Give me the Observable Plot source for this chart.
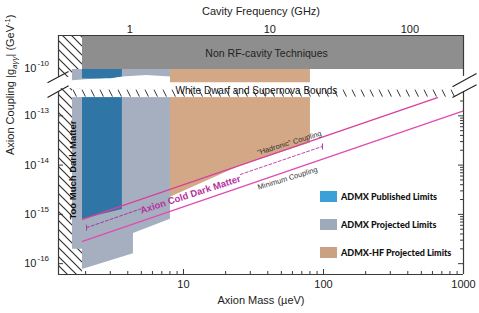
<!DOCTYPE html>
<html><head><meta charset="utf-8">
<script src="https://cdn.jsdelivr.net/npm/d3@7"></script>
<script src="https://cdn.jsdelivr.net/npm/@observablehq/plot@0.6"></script>
<style>
html,body{margin:0;padding:0;background:#fff;}
#wrap{position:relative;width:479px;height:313px;font-family:"Liberation Sans",Arial,sans-serif;}
#legend{position:absolute;left:320px;top:191px;font-family:Lato,"Liberation Sans",sans-serif;font-weight:900;font-size:9px;color:#111;}
#legend .row{position:absolute;left:0;white-space:nowrap;height:11px;}
#legend .sw{position:absolute;left:0;top:0;width:17px;height:11px;}
#legend .lb{position:absolute;left:21px;top:0;line-height:11px;}
</style></head><body>
<div id="wrap"><div id="legend"></div></div>
<script>
// ---------- data ----------
const GHZ_PER_UEV = 0.2418;
const massTicks = [10, 100, 1000];
const massMinor = [2,3,4,5,6,7,8,9,20,30,40,50,60,70,80,90,200,300,400,500,600,700,800,900];
const freqTicks = [1, 10, 100];
const couplingTicks = [1e-10, 1e-13, 1e-14, 1e-15, 1e-16];
const couplingMinor = [2e-16,3e-16,4e-16,5e-16,6e-16,7e-16,8e-16,9e-16,2e-15,3e-15,4e-15,5e-15,6e-15,7e-15,8e-15,9e-15,2e-14,3e-14,4e-14,5e-14,6e-14,7e-14,8e-14,9e-14,2e-13];
const massDomain = [1.28, 1000];
const couplingDomain = [10**-16.22, 10**-9.33];
const BREAK_SHIFT = 2.04; // decades hidden by the axis break

// excluded / projected regions (m in µeV, coupling in GeV^-1)
const tooMuchDM = [{m1: 1.28, m2: 1.90}];
const nonRF = [{m1: 1.90, m2: 1000, g1: 10**-10.02, g2: 10**-9.33}];
const upperTop = 10**-10.02;
const projUpper = [{m:1.61,g:10**-10.25},{m:3.66,g:10**-10.17},{m:5.5,g:10**-10.14},{m:8.07,g:10**-10.17}];
const pubUpper = [{m:1.90,g:10**-10.21},{m:2.8,g:10**-10.21},{m:3.66,g:10**-10.17}];
const hfUpper = [{m:8.07,g:10**-10.29},{m:80.7,g:10**-10.29}];
const lowerTop = 10**-12.63;
const projLower = [{m:1.61,g:10**-15.71},{m:1.90,g:10**-15.71},{m:1.90,g:10**-16.12},{m:4.39,g:10**-15.80},{m:4.39,g:10**-15.39},{m:8.07,g:10**-15.10}];
const pubLower = [{m:1.90,g:10**-15.10},{m:3.66,g:10**-14.90}];
const hfLower = [{m:8.07,g:10**-14.65},{m:25.5,g:10**-14.02},{m:80.7,g:10**-13.55}];
const breakGap = [{m1:1.28, m2:1.90, g1:10**-12.45, g2:10**-10.18}];
const wdHatch = [{m1:1.61, m2:877, g1:10**-12.63, g2:10**-12.45}];

// coupling lines
const hadronicLine = [{m:1.90,g:10**-15.10},{m:652,g:10**-12.63}];
const minimumLine = [{m:1.90,g:10**-15.55},{m:1000,g:10**-12.90}];
const cdmDashLeft = [{m:2.03,g:10**-15.27},{m:4.93,g:10**-14.89}];
const cdmDashRight = [{m:25.5,g:10**-14.19},{m:98.4,g:10**-13.62}];
const cdmCaps = [{m:2.03,g:10**-15.27},{m:98.4,g:10**-13.62}];

// annotations
const notes = [
  {m:39.2, g:10**-9.70, text:"Non RF-cavity Techniques", size:10.5, weight:"normal", color:"#222", rot:0},
  {m:33.2, g:10**-12.49, text:"White Dwarf and Supernova Bounds", size:10, weight:"normal", color:"#111", rot:0},
  {m:1.62, g:10**-14.1, text:"Too Much Dark Matter", size:9.5, weight:"bold", color:"#111", rot:-90},
  {m:11.2, g:10**-14.60, text:"Axion Cold Dark Matter", size:9.5, weight:"bold", color:"#b8319e", rot:-18},
  {m:57.1, g:10**-13.55, text:"\u201CHadronic\u201D Coupling", size:7.5, weight:"normal", color:"#333", rot:-17},
  {m:55.4, g:10**-14.27, text:"Minimum Coupling", size:7.5, weight:"normal", color:"#333", rot:-17}
];
// axis-break slashes
const breakMarks = [
  {m1:1.068,g1:10**-12.33,m2:1.51,g2:10**-12.10},
  {m1:1.068,g1:10**-12.63,m2:1.51,g2:10**-12.39},
  {m1:834,g1:10**-12.41,m2:1239,g2:10**-12.14},
  {m1:834,g1:10**-12.63,m2:1239,g2:10**-12.37}
];
const frameGap = [10**-12.51, 10**-10.16];

const legendItems = [
  {label:"ADMX Published Limits", color:"#3c9fd8"},
  {label:"ADMX Projected Limits", color:"#9ea9ba"},
  {label:"ADMX-HF Projected Limits", color:"#caa283"}
];

// ---------- helpers ----------
const u = g => { const L = Math.log10(g); return L > -11 ? L - BREAK_SHIFT : L; };
const C = {pub:"#2f76a6", proj:"#a5afc0", hf:"#d3a887", gray:"#8e8e8e", frame:"#3a3a3a"};
const W = 479, H = 313, ML = 58, MR = 16, MT = 35, MB = 39;
const yDom = [u(couplingDomain[0]), u(couplingDomain[1])];
const pxPerDecY = (H - MT - MB) / (yDom[1] - yDom[0]);
const pxPerDecX = (W - ML - MR) / Math.log10(massDomain[1] / massDomain[0]);
const dY = px => px / pxPerDecY;
const fX = px => 10 ** (px / pxPerDecX);
const Y_LABEL = "Axion Coupling |gaγγ| (GeV-1)";

const marks = [
  Plot.rect(tooMuchDM, {x1:"m1", x2:"m2", y1: yDom[0], y2: yDom[1], fill:"url(#hatchBig)"}),
  Plot.rect(breakGap, {x1:"m1", x2:"m2", y1: d=>u(d.g1), y2: d=>u(d.g2), fill:"white"}),
  Plot.rect(nonRF, {x1:"m1", x2:"m2", y1: d=>u(d.g1), y2: d=>u(d.g2), fill:C.gray}),
  Plot.areaY(projUpper, {x:"m", y1: d=>u(d.g), y2: u(upperTop), fill:C.proj, curve:"linear"}),
  Plot.areaY(pubUpper, {x:"m", y1: d=>u(d.g), y2: u(upperTop), fill:C.pub, curve:"natural"}),
  Plot.areaY(hfUpper, {x:"m", y1: d=>u(d.g), y2: u(upperTop), fill:C.hf}),
  Plot.areaY(projLower, {x:"m", y1: d=>u(d.g), y2: u(lowerTop), fill:C.proj}),
  Plot.areaY(pubLower, {x:"m", y1: d=>u(d.g), y2: u(lowerTop), fill:C.pub}),
  Plot.areaY(hfLower, {x:"m", y1: d=>u(d.g), y2: u(lowerTop), fill:C.hf}),
  Plot.rect(wdHatch, {x1:"m1", x2:"m2", y1: d=>u(d.g1), y2: d=>u(d.g2), fill:"url(#hatchRow)"}),
  Plot.line(hadronicLine, {x:"m", y: d=>u(d.g), stroke:"#d8409c", strokeWidth:1.3}),
  Plot.line(minimumLine, {x:"m", y: d=>u(d.g), stroke:"#e04bb2", strokeWidth:1.3}),
  Plot.line(cdmDashLeft, {x:"m", y: d=>u(d.g), stroke:"#9b3ba3", strokeWidth:1, strokeDasharray:"3,2"}),
  Plot.line(cdmDashRight, {x:"m", y: d=>u(d.g), stroke:"#c545b0", strokeWidth:1, strokeDasharray:"3,2"}),
  Plot.link(cdmCaps, {x1:"m", x2:"m", y1: d=>u(d.g)-dY(3), y2: d=>u(d.g)+dY(3), stroke:"#b03aa8", strokeWidth:1}),
  // frame with axis break
  Plot.ruleY([yDom[0], yDom[1]], {x1: massDomain[0], x2: massDomain[1], stroke:C.frame, strokeWidth:1.2}),
  Plot.ruleX(massDomain, {x: d=>d, y1: yDom[0], y2: u(frameGap[0]), stroke:C.frame, strokeWidth:1.2}),
  Plot.ruleX(massDomain, {x: d=>d, y1: u(frameGap[1]), y2: yDom[1], stroke:C.frame, strokeWidth:1.2}),
  Plot.link(breakMarks, {x1:"m1", x2:"m2", y1: d=>u(d.g1), y2: d=>u(d.g2), stroke:"#222", strokeWidth:1.1}),
  // ticks
  Plot.ruleX(massTicks, {x: d=>d, y1: yDom[0], y2: yDom[0]+dY(5), stroke:C.frame}),
  Plot.ruleX(massMinor, {x: d=>d, y1: yDom[0], y2: yDom[0]+dY(3), stroke:C.frame}),
  Plot.ruleY(couplingTicks.slice(1), {y: d=>u(d), x1: massDomain[1], x2: massDomain[1]/fX(5), stroke:C.frame}),
  Plot.ruleY(couplingMinor, {y: d=>u(d), x1: massDomain[1], x2: massDomain[1]/fX(3), stroke:C.frame}),
  Plot.ruleY(couplingTicks.slice(1), {y: d=>u(d), x1: massDomain[0], x2: massDomain[0]*fX(5), stroke:C.frame}),
  // tick labels
  Plot.text(massTicks, {x: d=>d, frameAnchor:"bottom", dy:13, text: d=>String(d), fontSize:11, fill:"#222"}),
  Plot.text(freqTicks, {x: f=>f/GHZ_PER_UEV, frameAnchor:"top", dy:-10, text: d=>String(d), fontSize:11, fill:"#222"}),
  Plot.text(couplingTicks, {y: d=>u(d), frameAnchor:"left", dx:-22, textAnchor:"end", text: ()=>"10", fontSize:11, fill:"#222"}),
  Plot.text(couplingTicks, {y: d=>u(d), frameAnchor:"left", dx:-21, dy:-5, textAnchor:"start", text: d=>"-"+Math.round(-Math.log10(d)), fontSize:8, fill:"#222"}),
  // axis titles
  Plot.text([0], {frameAnchor:"bottom", dy:29, text: ()=>"Axion Mass (\u00B5eV)", fontSize:11, fill:"#222"}),
  Plot.text([0], {frameAnchor:"top", dy:-28, text: ()=>"Cavity Frequency (GHz)", fontSize:11, fill:"#222"}),
  Plot.text([0], {frameAnchor:"left", dx:-48, rotate:-90, text: ()=>Y_LABEL, fontSize:11, fill:"#222"}),
  // annotations
  Plot.text(notes, {x:"m", y: d=>u(d.g), text:"text", rotate:"rot", fontSize: d=>d.size, fontWeight: d=>d.weight, fill: d=>d.color})
];

const chart = Plot.plot({
  width: W, height: H,
  marginLeft: ML, marginRight: MR, marginTop: MT, marginBottom: MB,
  x: {type:"log", domain: massDomain, axis: null},
  y: {type:"linear", domain: yDom, axis: null},
  style: {fontFamily:"Liberation Sans, Arial, sans-serif", background:"white", overflow:"visible"},
  marks
});

// fix annotation font sizes / weights (channels)
const svg = d3.select(chart);
svg.selectAll("text").each(function(){
  const t = d3.select(this);
  const n = notes.find(d => d.text === this.textContent);
  if (n) t.attr("font-size", n.size).attr("font-weight", n.weight);
});

// patterns
const yScale = chart.scale("y");
const rowTop = yScale.apply(u(wdHatch[0].g2));
const defs = svg.insert("defs", ":first-child");
const pb = defs.append("pattern").attr("id","hatchBig").attr("patternUnits","userSpaceOnUse").attr("width",9).attr("height",9);
pb.append("rect").attr("width",9).attr("height",9).attr("fill","white");
pb.append("path").attr("d","M-1,-1L10,10M-1,8L1,10M8,-1L10,1").attr("stroke","#333").attr("stroke-width",1.2);
const pr = defs.append("pattern").attr("id","hatchRow").attr("patternUnits","userSpaceOnUse").attr("width",9).attr("height",9).attr("y", rowTop);
pr.append("rect").attr("width",9).attr("height",9).attr("fill","white");
pr.append("path").attr("d","M1,1.5L4.5,8.5").attr("stroke","#333").attr("stroke-width",1);

// y label with sub/superscripts
svg.selectAll("text").each(function(){
  if (this.textContent !== Y_LABEL) return;
  const t = d3.select(this);
  t.text(null);
  t.append("tspan").text("Axion Coupling |g");
  t.append("tspan").attr("font-size",8).attr("font-style","italic").attr("dy",3).text("aγγ");
  t.append("tspan").attr("dy",-3).text("| (GeV");
  t.append("tspan").attr("font-size",7.5).attr("dy",-4).text("-1");
  t.append("tspan").attr("dy",4).text(")");
});

document.getElementById("wrap").prepend(chart);

// legend
const leg = d3.select("#legend");
legendItems.forEach((d, i) => {
  const r = leg.append("div").attr("class","row").style("top", (i*28)+"px");
  r.append("div").attr("class","sw").style("background", d.color);
  r.append("div").attr("class","lb").text(d.label);
});
</script>
</body></html>
